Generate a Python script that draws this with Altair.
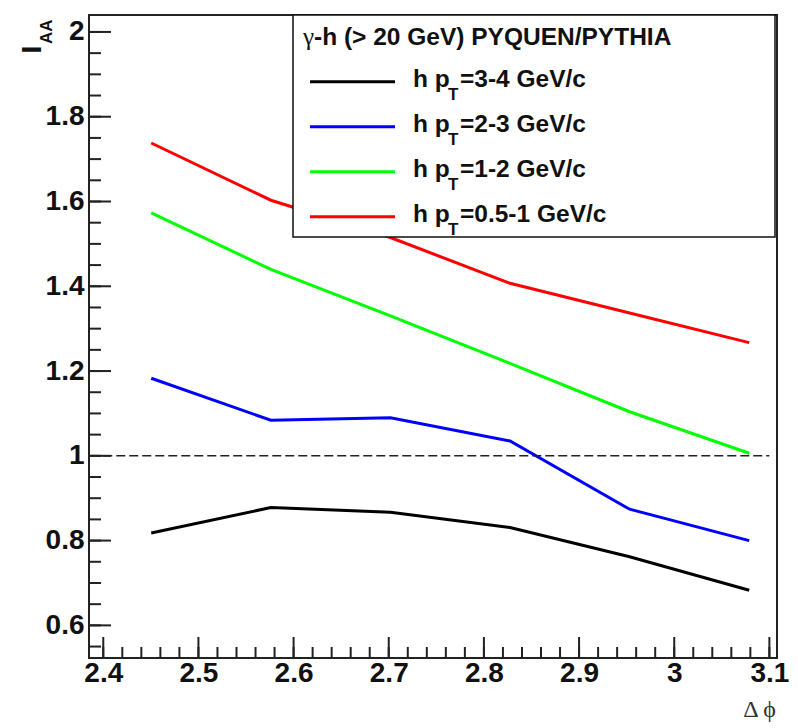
import altair as alt
import pandas as pd

# Delta-phi bin centres and I_AA for each associated-hadron pT bin
dphi = [2.4504, 2.5761, 2.7018, 2.8274, 2.9531, 3.0788]
iaa_34 = [0.818, 0.878, 0.867, 0.831, 0.762, 0.683]
iaa_23 = [1.183, 1.084, 1.090, 1.035, 0.874, 0.800]
iaa_12 = [1.573, 1.440, 1.330, 1.218, 1.104, 1.006]
iaa_051 = [1.738, 1.603, 1.515, 1.407, 1.337, 1.267]

series_names = ["3-4", "2-3", "1-2", "0.5-1"]
series_values = [iaa_34, iaa_23, iaa_12, iaa_051]
series_colors = ["#000000", "#0000ff", "#00ff00", "#ff0000"]

legend_greek = "γ"
legend_header = "-h (> 20 GeV) PYQUEN/PYTHIA"

x_major = [2.4, 2.5, 2.6, 2.7, 2.8, 2.9, 3.0, 3.1]
y_major = [0.6, 0.8, 1.0, 1.2, 1.4, 1.6, 1.8, 2.0]
x_minor = [round(2.4 + 0.02 * i, 2) for i in range(36)]
y_minor = [round(0.55 + 0.05 * i, 2) for i in range(30)]
reference_level = 1.0

W, H = 688, 643
FONT = "Liberation Sans"
SERIF = "Liberation Serif"
LEG_FS = 24.5

rows = []
for name, vals in zip(series_names, series_values):
    for x, v in zip(dphi, vals):
        rows.append({"dphi": x, "iaa": v, "series": name})
df = pd.DataFrame(rows)

xscale = alt.Scale(domain=[2.385, 3.108], nice=False, zero=False)
yscale = alt.Scale(domain=[0.523, 2.04], nice=False, zero=False)
cscale = alt.Scale(domain=series_names, range=series_colors)

x_axis = alt.Axis(values=x_major, labelExpr="toString(round(datum.value*10)/10)",
                  ticks=False, domain=False, grid=False, title=None,
                  labelFont=FONT, labelFontSize=28, labelFontWeight="bold",
                  labelColor="#111", labelPadding=1, labelOverlap=False)
y_axis = alt.Axis(values=y_major, labelExpr="toString(round(datum.value*10)/10)",
                  ticks=False, domain=False, grid=False, title=None,
                  labelFont=FONT, labelFontSize=28, labelFontWeight="bold",
                  labelColor="#111", labelPadding=5, labelOverlap=False)

one = pd.DataFrame({"k": [0]})

# curves
lines = alt.Chart(df).mark_line(strokeWidth=3).encode(
    x=alt.X("dphi:Q", scale=xscale, axis=x_axis),
    y=alt.Y("iaa:Q", scale=yscale, axis=y_axis),
    color=alt.Color("series:N", scale=cscale, legend=None),
    order="dphi:Q",
)

# dashed unity line
unity = alt.Chart(pd.DataFrame({"x0": [x_major[0]], "x1": [x_major[-1]],
                                "y": [reference_level]})).mark_rule(
    color="#222", strokeWidth=1.5, strokeDash=[9, 4]
).encode(
    x=alt.X("x0:Q", scale=xscale), x2="x1:Q",
    y=alt.Y("y:Q", scale=yscale),
)

# inward ROOT-style ticks
def xticks(vals, length):
    return alt.Chart(pd.DataFrame({"v": vals})).mark_rule(
        color="#222", strokeWidth=2).encode(
        x=alt.X("v:Q", scale=xscale), y=alt.value(H), y2=alt.value(H - length))

def yticks(vals, length):
    return alt.Chart(pd.DataFrame({"v": vals})).mark_rule(
        color="#222", strokeWidth=2).encode(
        y=alt.Y("v:Q", scale=yscale), x=alt.value(0), x2=alt.value(length))

ticks = [xticks(x_minor, 11), xticks(x_major, 21),
         yticks(y_minor, 12), yticks(y_major, 22)]

# legend box
leg_box = alt.Chart(one).mark_rect(fill="white", stroke="#111", strokeWidth=1.5).encode(
    x=alt.value(204), x2=alt.value(686), y=alt.value(0), y2=alt.value(222))

leg_gamma = alt.Chart(one).mark_text(
    align="left", baseline="alphabetic", font=SERIF, fontSize=25,
    color="#111").encode(
    x=alt.value(214), y=alt.value(30), text=alt.value(legend_greek))
leg_title = alt.Chart(one).mark_text(
    align="left", baseline="alphabetic", font=FONT, fontSize=LEG_FS,
    fontWeight="bold", color="#111").encode(
    x=alt.value(225), y=alt.value(30), text=alt.value(legend_header))

leg_df = pd.DataFrame({"series": series_names, "i": list(range(len(series_names)))})
leg_base = alt.Chart(leg_df).transform_calculate(
    ly="66.7 + 45 * datum.i",
    tb="66.7 + 45 * datum.i + 5.6",
    sb="66.7 + 45 * datum.i + 18.3",
    rest="'=' + datum.series + ' GeV/c'",
)
leg_lines = leg_base.mark_rule(strokeWidth=3).encode(
    x=alt.value(221), x2=alt.value(306),
    y=alt.Y("ly:Q", scale=None),
    color=alt.Color("series:N", scale=cscale, legend=None))
leg_h = leg_base.mark_text(align="left", baseline="alphabetic", font=FONT,
                           fontSize=LEG_FS, fontWeight="bold", color="#111").encode(
    x=alt.value(324), y=alt.Y("tb:Q", scale=None), text=alt.value("h p"))
leg_sub = leg_base.mark_text(align="left", baseline="alphabetic", font=FONT,
                             fontSize=17, fontWeight="bold", color="#111").encode(
    x=alt.value(359), y=alt.Y("sb:Q", scale=None), text=alt.value("T"))
leg_rest = leg_base.mark_text(align="left", baseline="alphabetic", font=FONT,
                              fontSize=LEG_FS, fontWeight="bold", color="#111").encode(
    x=alt.value(371), y=alt.Y("tb:Q", scale=None), text="rest:N")

# axis titles
ytitle_main = alt.Chart(one).mark_text(
    angle=270, align="center", baseline="alphabetic", font=FONT, fontSize=28,
    fontWeight="bold", color="#111").encode(
    x=alt.value(-48), y=alt.value(34.5), text=alt.value("I"))
ytitle_sub = alt.Chart(one).mark_text(
    angle=270, align="left", baseline="alphabetic", font=FONT, fontSize=17,
    fontWeight="bold", color="#111").encode(
    x=alt.value(-37), y=alt.value(29), text=alt.value("AA"))
xtitle = alt.Chart(one).mark_text(
    align="right", baseline="alphabetic", font=SERIF, fontSize=24,
    color="#333").encode(
    x=alt.value(687), y=alt.value(702), text=alt.value("Δ ϕ"))

chart = alt.layer(
    lines, unity, leg_box, leg_gamma, leg_title, leg_lines, leg_h, leg_sub, leg_rest,
    *ticks, ytitle_main, ytitle_sub, xtitle,
).properties(
    width=W, height=H,
    autosize=alt.AutoSizeParams(type="none"),
    padding={"left": 89, "top": 15, "right": 21, "bottom": 70},
    background="white",
).configure_view(stroke="#222", strokeWidth=2)

chart.save("out.html", embed_options={"renderer": "svg", "actions": False})
